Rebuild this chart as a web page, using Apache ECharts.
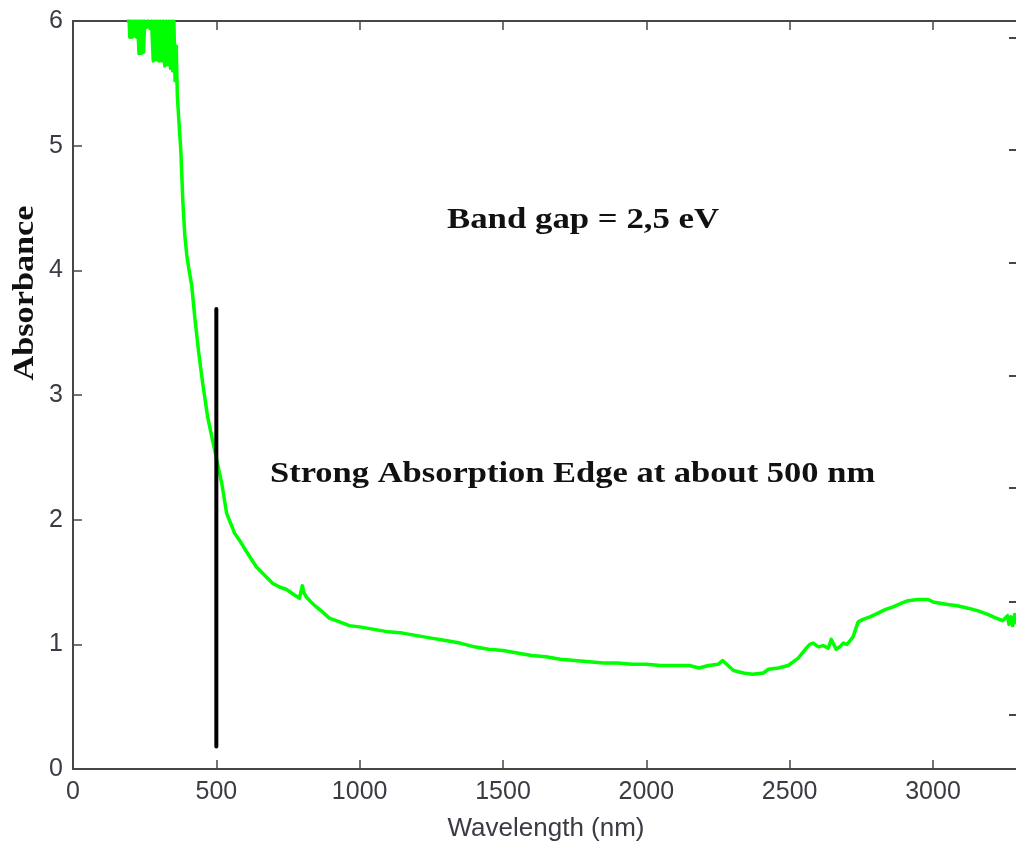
<!DOCTYPE html>
<html>
<head>
<meta charset="utf-8">
<title>Absorbance spectrum</title>
<script src="https://cdn.jsdelivr.net/npm/echarts@6/dist/echarts.min.js"></script>
<style>
  html, body { margin: 0; padding: 0; background: #ffffff; }
  #chart { width: 1016px; height: 850px; }
</style>
</head>
<body>
<div id="chart"></div>
<script>
// Measured absorbance spectrum (wavelength in nm, absorbance in a.u.)
const wavelength = [
  188, 196, 198, 202, 206, 210, 214, 218, 222, 226, 230, 234, 238, 242, 246,
  250, 256, 262, 268, 274, 280, 285, 290, 295, 300, 305, 310, 315, 320, 325,
  330, 335, 340, 344, 348, 352, 356, 360, 364, 368, 372, 376, 383, 390, 397,
  405, 414, 425, 438, 452, 470, 494, 519, 536, 550, 564, 585, 606, 640, 670,
  696, 720, 745, 770, 790, 796, 800, 806, 814, 830, 849, 870, 894, 930, 964,
  1000, 1050, 1100, 1150, 1200, 1250, 1300, 1350, 1400, 1450, 1500, 1550, 1600, 1650, 1700,
  1750, 1800, 1850, 1900, 1950, 2000, 2050, 2100, 2150, 2184, 2217, 2250, 2266, 2285, 2304,
  2339, 2370, 2408, 2426, 2460, 2495, 2530, 2558, 2570, 2582, 2600, 2617, 2635, 2645, 2662,
  2675, 2687, 2700, 2711, 2721, 2739, 2756, 2780, 2808, 2835, 2861, 2890, 2913, 2948, 2982,
  3000, 3025, 3052, 3085, 3122, 3155, 3191, 3220, 3243, 3260, 3265, 3272, 3278, 3285, 3292,
  3300
];
const absorbance = [
  6.00, 6.00, 5.87, 6.00, 5.87, 6.00, 5.88, 6.00, 5.87, 6.00, 5.74, 6.00, 5.74, 6.00, 5.75,
  6.00, 5.95, 6.00, 5.94, 6.00, 5.68, 6.00, 5.69, 6.00, 5.68, 6.00, 5.68, 6.00, 5.64, 6.00,
  5.65, 6.00, 5.62, 6.00, 5.60, 6.00, 5.52, 5.80, 5.40, 5.25, 5.10, 4.97, 4.56, 4.28, 4.12,
  4.00, 3.88, 3.62, 3.35, 3.10, 2.82, 2.56, 2.29, 2.05, 1.97, 1.89, 1.82, 1.74, 1.62, 1.55,
  1.49, 1.46, 1.44, 1.40, 1.37, 1.36, 1.47, 1.41, 1.38, 1.34, 1.30, 1.26, 1.21, 1.18, 1.15,
  1.14, 1.12, 1.10, 1.09, 1.07, 1.05, 1.03, 1.01, 0.98, 0.96, 0.95, 0.93, 0.91, 0.90, 0.88,
  0.87, 0.86, 0.85, 0.85, 0.84, 0.84, 0.83, 0.83, 0.83, 0.81, 0.83, 0.84, 0.87, 0.83, 0.79,
  0.77, 0.76, 0.77, 0.80, 0.81, 0.83, 0.89, 0.97, 1.00, 1.01, 0.98, 0.99, 0.97, 1.04, 0.96,
  0.98, 1.01, 1.00, 1.03, 1.06, 1.18, 1.20, 1.22, 1.25, 1.28, 1.30, 1.33, 1.35, 1.36, 1.36,
  1.34, 1.33, 1.32, 1.31, 1.29, 1.27, 1.24, 1.21, 1.19, 1.23, 1.16, 1.22, 1.15, 1.24, 1.17,
  1.20
];

// Vertical marker at the absorption edge
const edgeWavelength = [500, 500];
const edgeAbsorbance = [0.18, 3.69];

// Axis ranges and tick values
const xRange = [0, 3300];
const yRange = [0, 6];
const rightTicks = [0.433, 1.340, 2.254, 3.156, 4.059, 4.965, 5.864];

// Annotation texts
const yTitle = 'Absorbance';
const xTitle = 'Wavelength (nm)';
const gapNote = 'Band gap = 2,5 eV';
const edgeNote = 'Strong Absorption Edge at about 500 nm';

const spectrum = wavelength.map((w, i) => [w, absorbance[i]]);
const edgeLine = edgeWavelength.map((w, i) => [w, edgeAbsorbance[i]]);

const axisColor = '#474747';
const labelColor = '#3b3b45';
const serif = '"Liberation Serif", "Times New Roman", serif';
const sans = '"Liberation Sans", Arial, sans-serif';
const plain = v => String(v);

const chart = echarts.init(document.getElementById('chart'), null, { renderer: 'canvas' });

const tickStyle = { color: axisColor, width: 1.5 };
const lineStyle = { color: axisColor, width: 2 };

chart.setOption({
  animation: false,
  backgroundColor: '#ffffff',
  grid: {
    left: 73, top: 21, right: -3, bottom: 81,
    containLabel: false,
    outerBoundsMode: 'none'
  },
  xAxis: [
    {
      type: 'value',
      min: xRange[0],
      max: xRange[1],
      interval: 500,
      position: 'bottom',
      name: xTitle,
      nameLocation: 'middle',
      nameGap: 47,
      nameTextStyle: { fontFamily: sans, fontSize: 26, color: labelColor },
      axisLine: { show: true, onZero: false, lineStyle: lineStyle },
      axisTick: { show: true, inside: true, length: 9, lineStyle: tickStyle },
      axisLabel: {
        fontFamily: sans, fontSize: 25, color: labelColor, margin: 11,
        formatter: plain, showMaxLabel: false
      },
      splitLine: { show: false }
    },
    {
      type: 'value',
      min: xRange[0],
      max: xRange[1],
      interval: 500,
      position: 'top',
      axisLine: { show: true, onZero: false, lineStyle: lineStyle },
      axisTick: { show: true, inside: true, length: 9, lineStyle: tickStyle },
      axisLabel: { show: false },
      splitLine: { show: false }
    }
  ],
  yAxis: [
    {
      type: 'value',
      min: yRange[0],
      max: yRange[1],
      interval: 1,
      position: 'left',
      axisLine: { show: true, onZero: false, lineStyle: lineStyle },
      axisTick: { show: true, inside: true, length: 9, lineStyle: tickStyle },
      axisLabel: { fontFamily: sans, fontSize: 25, color: labelColor, margin: 10, formatter: plain },
      splitLine: { show: false }
    },
    {
      type: 'value',
      min: yRange[0],
      max: yRange[1],
      position: 'right',
      axisLine: { show: true, onZero: false, lineStyle: lineStyle },
      axisTick: {
        show: true, inside: true, length: 10, customValues: rightTicks,
        lineStyle: { color: axisColor, width: 2 }
      },
      axisLabel: { show: false },
      splitLine: { show: false }
    }
  ],
  series: [
    {
      name: 'Absorbance',
      type: 'line',
      xAxisIndex: 0,
      yAxisIndex: 0,
      data: spectrum,
      showSymbol: false,
      symbol: 'none',
      clip: true,
      lineStyle: { color: '#00ff00', width: 3.5, join: 'round' },
      z: 2
    },
    {
      name: 'Edge',
      type: 'line',
      xAxisIndex: 0,
      yAxisIndex: 0,
      data: edgeLine,
      showSymbol: false,
      symbol: 'none',
      lineStyle: { color: '#000000', width: 4, cap: 'round' },
      z: 3
    }
  ],
  graphic: [
    {
      type: 'text',
      x: 25, y: 293,
      rotation: Math.PI / 2,
      scaleX: 1.14,
      style: {
        text: yTitle, fill: '#111111',
        font: 'bold 30px ' + serif,
        align: 'center', verticalAlign: 'middle'
      }
    },
    {
      type: 'text',
      x: 447, y: 220,
      scaleX: 1.16,
      style: {
        text: gapNote, fill: '#111111',
        font: 'bold 30px ' + serif,
        align: 'left', verticalAlign: 'middle'
      }
    },
    {
      type: 'text',
      x: 270, y: 474,
      scaleX: 1.15,
      style: {
        text: edgeNote, fill: '#111111',
        font: 'bold 30px ' + serif,
        align: 'left', verticalAlign: 'middle'
      }
    }
  ]
});
</script>
</body>
</html>
